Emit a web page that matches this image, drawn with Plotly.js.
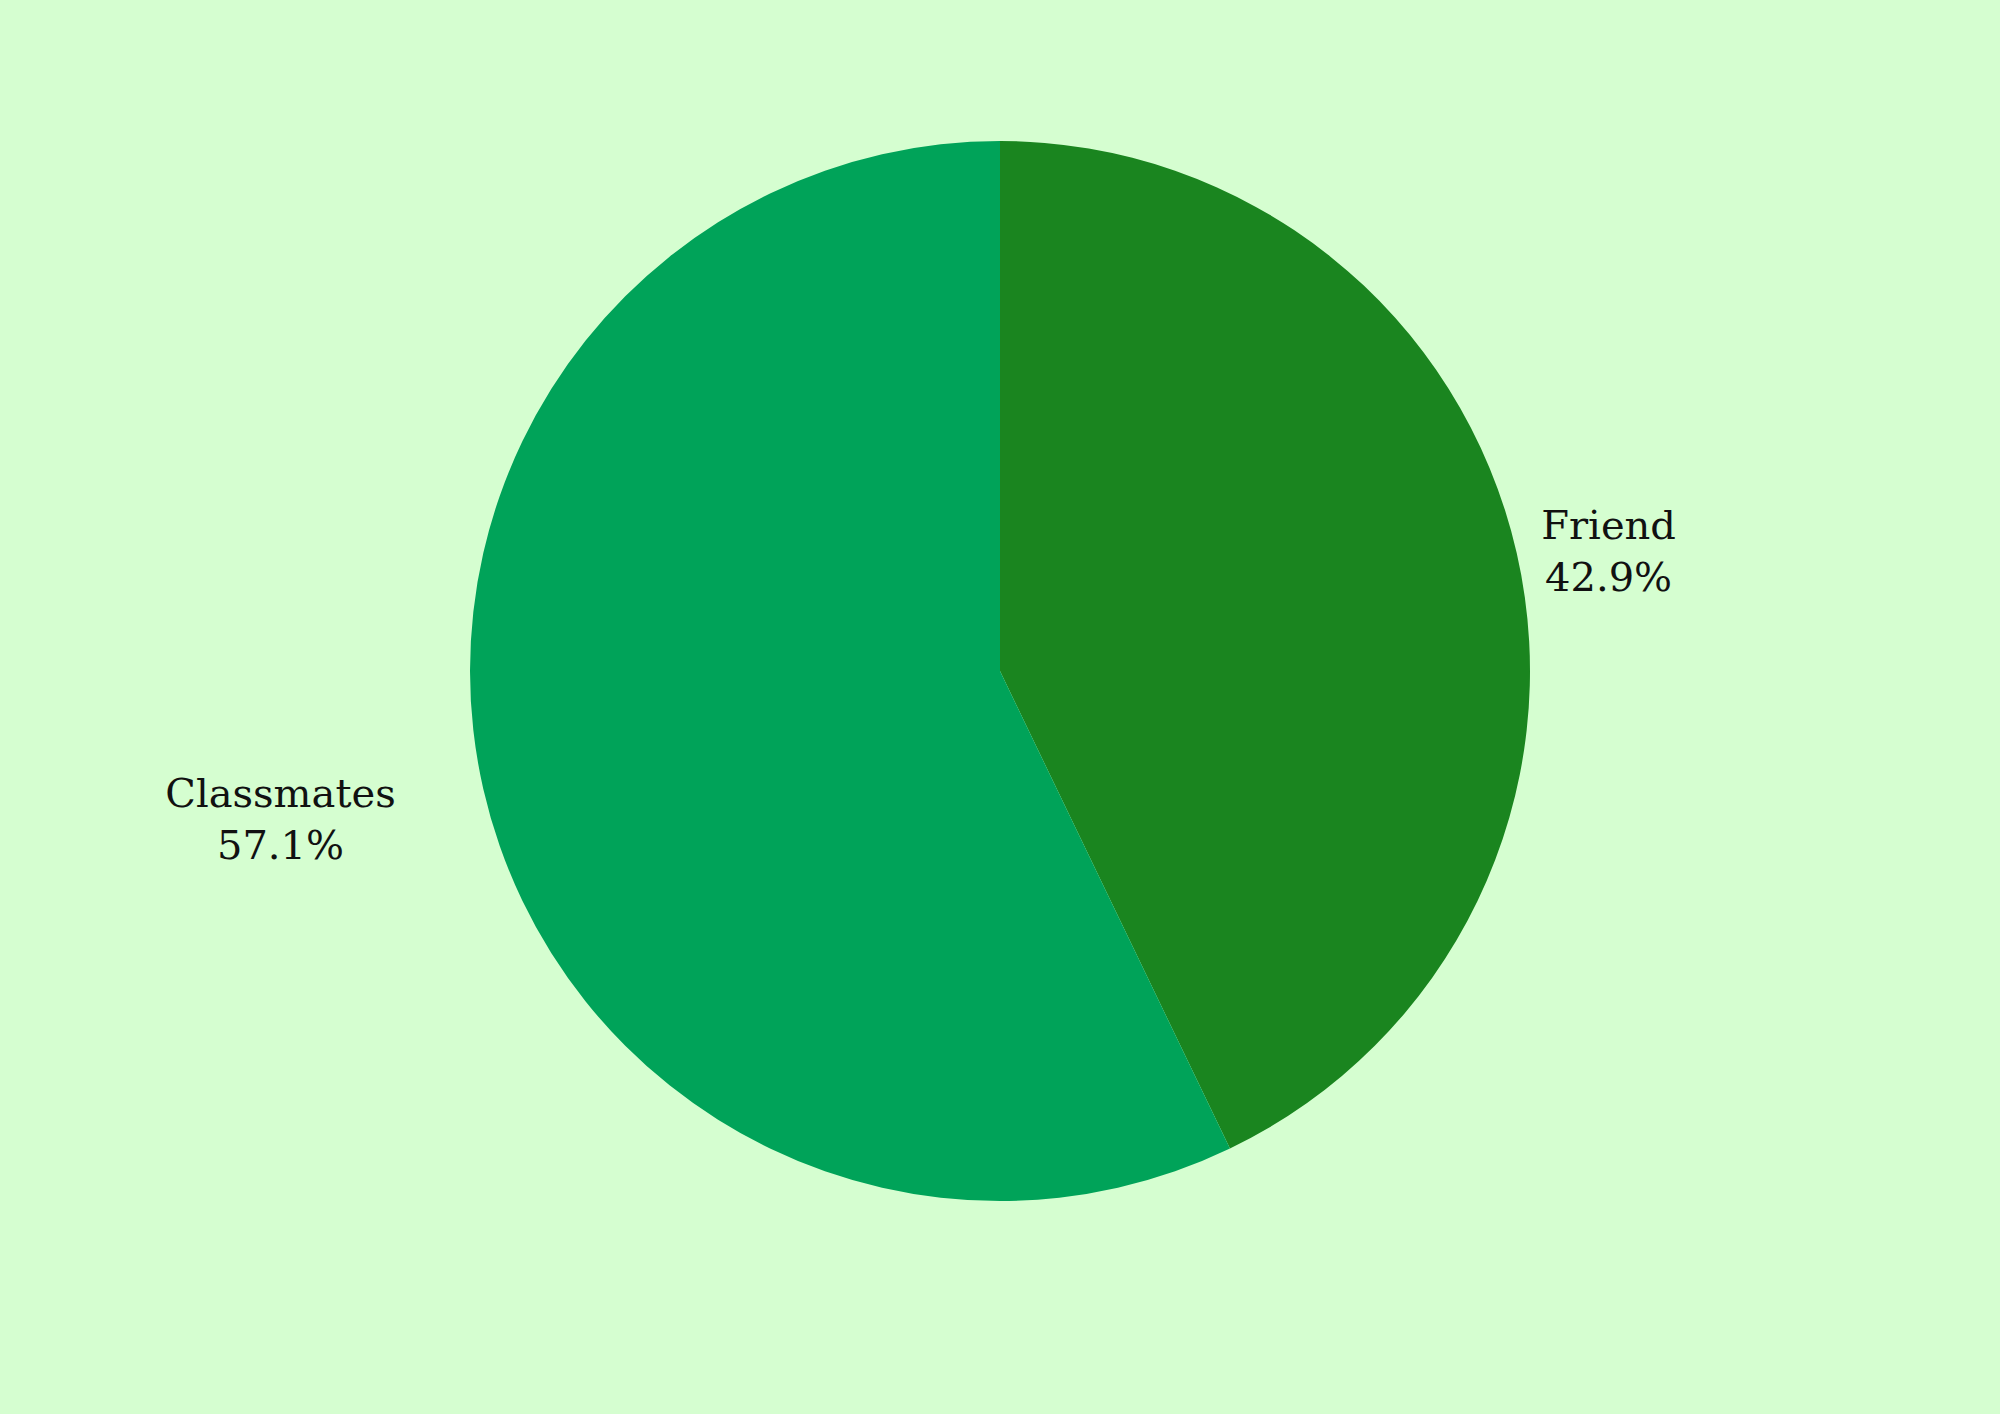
<!DOCTYPE html>
<html>
<head>
<meta charset="utf-8">
<script src="https://cdn.plot.ly/plotly-3.0.1.min.js"></script>
<style>html,body{margin:0;padding:0;background:#d5fed0;}#chart{width:2000px;height:1414px;}</style>
</head>
<body>
<div id="chart"></div>
<script>
const categories = ["Friend", "Classmates"];
const counts = [3, 4];
const sliceColors = ["#1a851f", "#00a359"];

const pad = "\u00a0".repeat(26);
const templates = ["%{label}<br>%{percent}", pad + "<br>%{label}<br>%{percent}"];

Plotly.newPlot("chart", [{
  type: "pie",
  labels: categories,
  values: counts,
  marker: {colors: sliceColors},
  texttemplate: templates,
  textposition: "outside",
  sort: false,
  direction: "clockwise",
  rotation: 0,
  showlegend: false,
  outsidetextfont: {family: "DejaVu Serif, Liberation Serif, serif", size: 40, color: "#111111"},
  hoverinfo: "none"
}], {
  width: 2000,
  height: 1414,
  paper_bgcolor: "#d5fed0",
  plot_bgcolor: "#d5fed0",
  margin: {t: 141, b: 213, l: 100, r: 100},
  showlegend: false
}, {displayModeBar: false, staticPlot: true});
</script>
</body>
</html>
